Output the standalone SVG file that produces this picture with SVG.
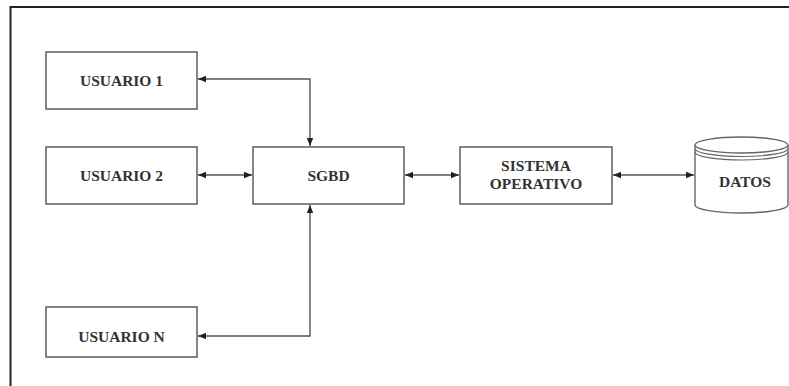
<svg xmlns="http://www.w3.org/2000/svg" width="789" height="386" viewBox="0 0 789 386">
<defs>
<marker id="ah" viewBox="0 0 10 10" refX="10" refY="5" markerWidth="8" markerHeight="8" markerUnits="userSpaceOnUse" orient="auto-start-reverse">
<path d="M0,1 L10,5 L0,9 z" fill="#222"/>
</marker>
<style>
.box{fill:#fff;stroke:#666;stroke-width:1.6}
.t{font-family:"Liberation Serif",serif;font-weight:bold;font-size:15.5px;fill:#333;text-anchor:middle}
.c{fill:none;stroke:#555;stroke-width:1.4;marker-start:url(#ah);marker-end:url(#ah)}
</style>
</defs>
<rect width="789" height="386" fill="#fff"/>
<path d="M10.5,386 V7 H789" fill="none" stroke="#222" stroke-width="2"/>
<g id="usuario1"><rect class="box" x="46" y="52" width="151" height="57"/><text class="t" x="121.5" y="86">USUARIO 1</text></g>
<g id="usuario2"><rect class="box" x="46" y="147" width="151" height="57"/><text class="t" x="121.5" y="181">USUARIO 2</text></g>
<g id="usuarioN"><rect class="box" x="46" y="307" width="151" height="50"/><text class="t" x="121.5" y="342">USUARIO N</text></g>
<g id="sgbd"><rect class="box" x="253" y="147" width="151" height="57"/><text class="t" x="328.5" y="181">SGBD</text></g>
<g id="so"><rect class="box" x="460" y="147" width="152" height="57"/><text class="t" x="536" y="171">SISTEMA</text><text class="t" x="536" y="189">OPERATIVO</text></g>
<g id="datos">
<path d="M695,145 V205 A46.5,8 0 0 0 788,205 V145" fill="#fff" stroke="#666" stroke-width="1.4"/>
<ellipse cx="741.5" cy="145" rx="46.5" ry="8" fill="#fff" stroke="#666" stroke-width="1.4"/>
<path d="M695,148.5 A46.5,8 0 0 0 788,148.5 M695,152 A46.5,8 0 0 0 788,152" fill="none" stroke="#666" stroke-width="1.2"/>
<text class="t" x="745" y="187">DATOS</text>
</g>
<g id="connectors">
<path class="c" d="M198,79 H310 V146"/>
<path class="c" d="M198,175 H252"/>
<path class="c" d="M198,336 H310 V205"/>
<path class="c" d="M405,175 H459"/>
<path class="c" d="M613,175 H694"/>
</g>
</svg>
